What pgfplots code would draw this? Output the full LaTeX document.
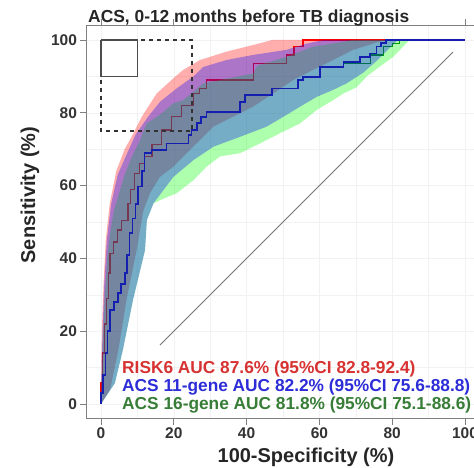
\documentclass[border=0pt]{standalone}
\usepackage{pgfplots}
\pgfplotsset{compat=1.18}
\usepackage{fontspec}
\setmainfont{Liberation Sans}
\definecolor{axgray}{RGB}{128,128,128}
\definecolor{txtred}{RGB}{215,50,50}
\definecolor{txtblue}{RGB}{45,45,215}
\definecolor{txtgreen}{RGB}{55,125,55}
\definecolor{lnblue}{RGB}{20,30,175}
\definecolor{lngreen}{RGB}{0,120,0}
\begin{document}
\begin{tikzpicture}[x=1pt,y=1pt]
\begin{axis}[
  at={(86.44pt,49.44pt)}, anchor=south west,
  scale only axis, width=393.12pt, height=393.12pt,
  xmin=-4, xmax=104, ymin=-4, ymax=104,
  axis line style={axgray, line width=0.9pt},
  xtick={0,20,...,100}, ytick={0,20,...,100},
  minor tick num=1, minor tick length=0pt,
  grid=both, major grid style={black!5, line width=0.5pt}, minor grid style={black!5, line width=0.5pt},
  tick align=outside, major tick length=6pt,
  tick style={axgray, line width=0.9pt},
  ticklabel style={font=\fontsize{15.5}{16}\selectfont\bfseries, text=black!80},
  /pgf/number format/assume math mode=true,
]
% lines (drawn under the bands)
\addplot[red, line width=1.2pt] coordinates {
(0,0)(0,6)(0.5,6)(0.5,14)(1,14)(1,22)(1.6,22)(1.6,29)(2,29)(2,36)(2.5,36)(2.5,41.4)(3.5,41.4)(3.5,44.5)(4.5,44.5)(4.5,47.8)(5.7,47.8)(5.7,50.5)(7.4,50.5)(7.4,55)(8.2,55)(8.2,59)(9.2,59)(9.2,63.4)(10.5,63.4)(10.5,66)(12,66)(12,68)(14,68)(14,71.2)(16.7,71.2)(16.7,75.3)(19.4,75.3)(19.4,78.9)(22.2,78.9)(22.2,82.1)(25.4,82.1)(25.4,85.3)(27,85.3)(27,86.7)(29,86.7)(29,89)(41.8,89)(41.8,93.6)(51,93.6)(51,95.9)(53,95.9)(53,98.2)(55.5,98.2)(55.5,100)(100,100)};
\addplot[lngreen, line width=1.2pt] coordinates {
(0,0)(0,3)(0.6,3)(0.6,8)(1.2,8)(1.2,14)(1.8,14)(1.8,20)(2.5,20)(2.5,25.8)(3.5,25.8)(3.5,28)(4.7,28)(4.7,30.5)(5.5,30.5)(5.5,33)(6.6,33)(6.6,36)(7.2,36)(7.2,41)(7.8,41)(7.8,47)(8.6,47)(8.6,51)(9.5,51)(9.5,55)(10.2,55)(10.2,59.7)(11.3,59.7)(11.3,64)(12,64)(12,68.9)(13.9,68.9)(13.9,69.8)(18,69.8)(18,71.6)(24,71.6)(24,73.9)(24.9,73.9)(24.9,75.3)(26.3,75.3)(26.3,77.2)(27.5,77.2)(27.5,78.9)(29,78.9)(29,80.3)(38.2,80.3)(38.2,83)(39.5,83)(39.5,84.9)(46.9,84.9)(46.9,86.7)(54.1,86.7)(54.1,89)(55.5,89)(55.5,89.9)(60.2,89.9)(60.2,92.6)(66.6,92.6)(66.6,93.6)(74,93.6)(74,95.9)(77.5,95.9)(77.5,98.2)(80,98.2)(80,99)(82.1,99)(82.1,100)(100,100)};
% confidence bands
\addplot[draw=none, fill=red, fill opacity=0.32] coordinates {
(0,0)(0.1,12)(0.3,22)(0.7,33)(1.3,45)(2.4,55)(4.2,64)(6.5,70)(8.4,73.4)(11.2,78.9)(15.3,85.3)(19.9,89.5)(22.6,91.8)(27.2,94.5)(34.5,96.8)(43.7,99.1)(47,100)(100,100)
(78,100)(74.8,99)(69.3,97.3)(63.8,94.5)(58.3,91.8)(52.8,89)(47.3,85.3)(41.8,81.7)(36.3,78.9)(30.9,76.2)(27.2,72.5)(23.5,68.9)(19.9,65.2)(16.2,62.4)(13.5,58)(11.6,53)(9.8,42.3)(7,28.6)(4.8,15)(2.5,4)(0,0)};
\addplot[draw=none, fill=green, fill opacity=0.32] coordinates {
(0,0)(0.3,10)(0.6,20)(1.1,30)(1.7,40)(2.5,47)(3.5,53)(5,58)(6.5,63)(8.5,68)(10.5,72)(12.5,77)(16.2,79.5)(19.9,82.6)(22.6,83.5)(25.4,85.8)(28.1,88.1)(32.7,89)(41.8,90.8)(43,93)(51,95.4)(54.7,96.8)(58.3,98.2)(66.5,99.5)(69,100)(100,100)
(84.8,100)(83,98.2)(80.3,95.4)(76.6,92.7)(73,90)(70.2,87)(66.6,85.3)(63.8,83.5)(59.3,80.8)(54.7,77.1)(49.2,74.4)(43.7,71.6)(38.2,68.9)(32.7,68)(29,65.2)(25.4,61.5)(20.8,57.9)(16.2,56)(14.4,55.1)(12.6,50.5)(12.1,42.3)(8.8,28.6)(6,14.8)(3.8,5.7)(0,0)};
\addplot[draw=none, fill=blue, fill opacity=0.32] coordinates {
(0,0)(0.2,12)(0.5,22)(0.9,33)(1.6,45)(2.8,55)(4.6,63)(6.8,68)(9.5,74)(13,79)(16.2,83)(20.8,86.7)(25.4,90)(28.1,92.6)(34.5,94.5)(41.8,95.9)(51,97.3)(56.5,99)(61,100)(100,100)
(81.5,100)(79,97.5)(76,94.5)(72,91)(67.5,88.1)(63.8,86.3)(59.3,84.4)(54.7,81.7)(50.1,78.9)(45.5,76.2)(38.2,73.4)(30.9,70.7)(25.4,67)(19.9,62.4)(14.4,55.1)(12.6,50.5)(12.1,42.3)(8.8,28.6)(6,14.8)(3.8,5.7)(0,0)};
% ACS 11-gene line on top
\addplot[lnblue, line width=1.6pt] coordinates {
(0,0)(0,3)(0.6,3)(0.6,8)(1.2,8)(1.2,14)(1.8,14)(1.8,20)(2.5,20)(2.5,25.8)(3.5,25.8)(3.5,28)(4.7,28)(4.7,30.5)(5.5,30.5)(5.5,33)(6.6,33)(6.6,36)(7.2,36)(7.2,41)(7.8,41)(7.8,47)(8.6,47)(8.6,51)(9.5,51)(9.5,55)(10.2,55)(10.2,59.7)(11.3,59.7)(11.3,64)(12,64)(12,68.9)(13.9,68.9)(13.9,69.8)(18,69.8)(18,71.6)(24,71.6)(24,73.9)(24.9,73.9)(24.9,75.3)(26.3,75.3)(26.3,77.2)(27.5,77.2)(27.5,78.9)(29,78.9)(29,80.3)(38.2,80.3)(38.2,83)(39.5,83)(39.5,84.9)(46.9,84.9)(46.9,86.7)(54.1,86.7)(54.1,89)(55.5,89)(55.5,89.9)(60.2,89.9)(60.2,92.6)(66.6,92.6)(66.6,94)(71.2,94)(71.2,95.4)(73.9,95.4)(73.9,96.3)(75.7,96.3)(75.7,98.2)(77,98.2)(77,99.1)(78.3,99.1)(78.3,100)(100,100)};
% reference diagonal
\addplot[black!55, line width=0.8pt] coordinates {(16.2,16.2)(96.7,96.7)};
% boxes
\addplot[black!80, line width=1.2pt, dash pattern=on 4pt off 4pt] coordinates {(0,100)(25,100)(25,75)(0,75)(0,100)};
\addplot[black!70, line width=1.2pt] coordinates {(0,100)(10,100)(10,90)(0,90)(0,100)};
\end{axis}
% texts
\node[anchor=base west, font=\fontsize{17.4}{18}\selectfont\bfseries, text=black!85, inner sep=0pt] at (88,445) {ACS, 0-12 months before TB diagnosis};
\node[anchor=base, font=\fontsize{20}{22}\selectfont\bfseries, text=black!85, inner sep=0pt] at (306,5) {100-Specificity (\%)};
\node[rotate=90, anchor=center, font=\fontsize{20}{22}\selectfont\bfseries, text=black!85, inner sep=0pt] at (30,273) {Sensitivity (\%)};
\node[anchor=base west, font=\fontsize{17.3}{18}\selectfont\bfseries, text=txtred, inner sep=0pt] at (122,94) {RISK6 AUC 87.6\% (95\%CI 82.8-92.4)};
\node[anchor=base west, font=\fontsize{17.3}{18}\selectfont\bfseries, text=txtblue, inner sep=0pt] at (122,76) {ACS 11-gene AUC 82.2\% (95\%CI 75.6-88.8)};
\node[anchor=base west, font=\fontsize{17.3}{18}\selectfont\bfseries, text=txtgreen, inner sep=0pt] at (122,58) {ACS 16-gene AUC 81.8\% (95\%CI 75.1-88.6)};
\pgfresetboundingbox
\useasboundingbox (0,0) rectangle (474,468);
\end{tikzpicture}
\end{document}
